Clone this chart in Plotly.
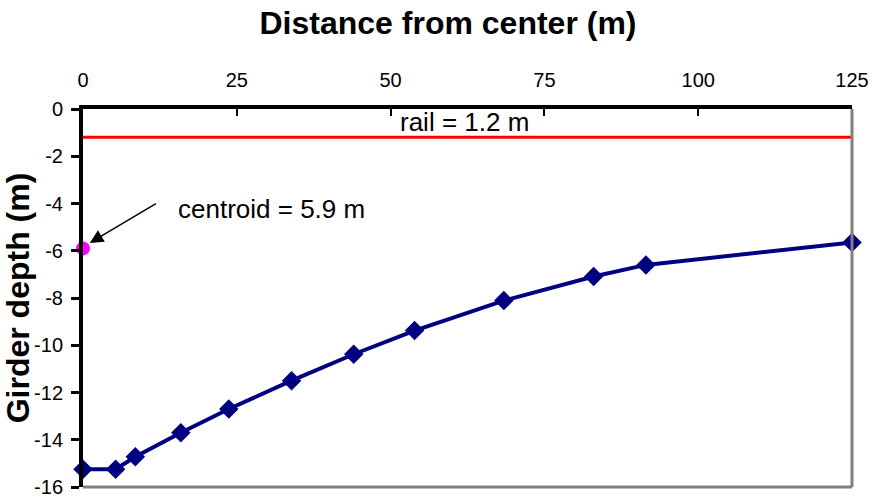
import plotly.graph_objects as go

distance = [0, 5.3, 8.5, 15.9, 23.7, 33.9, 44.0, 53.9, 68.4, 83.0, 91.5, 125]
depth = [-15.25, -15.25, -14.72, -13.7, -12.7, -11.5, -10.38, -9.38, -8.11, -7.09, -6.6, -5.65]
rail_x = [0, 125]
rail_y = [-1.2, -1.2]
centroid_x = [0]
centroid_y = [-5.9]
x_ticks = [0, 25, 50, 75, 100, 125]
x_labels = ["0", "25", "50", "75", "100", "125"]
y_ticks = [0, -2, -4, -6, -8, -10, -12, -14, -16]
y_labels = ["0", "-2", "-4", "-6", "-8", "-10", "-12", "-14", "-16"]

fig = go.Figure()
fig.add_trace(go.Scatter(x=rail_x, y=rail_y, mode="lines",
                         line=dict(color="#ff0000", width=3), showlegend=False))
fig.add_trace(go.Scatter(x=distance, y=depth, mode="lines+markers",
                         line=dict(color="#000080", width=4),
                         marker=dict(symbol="diamond", size=15, color="#000080"),
                         showlegend=False, cliponaxis=False))
fig.add_trace(go.Scatter(x=centroid_x, y=centroid_y, mode="markers",
                         marker=dict(symbol="circle", size=14, color="#ff00ff"),
                         showlegend=False, cliponaxis=False))

fig.add_shape(type="line", xref="paper", yref="paper", x0=1, x1=1, y0=0, y1=1,
              line=dict(color="#808080", width=3))
fig.add_shape(type="line", xref="paper", yref="paper", x0=0, x1=1, y0=0, y1=0,
              line=dict(color="#808080", width=3))

fig.add_annotation(x=1.1, y=-5.67, ax=12.1, ay=-3.97, axref="x", ayref="y",
                   xref="x", yref="y", text="", showarrow=True, arrowhead=2,
                   arrowsize=1.8, arrowwidth=1.5, arrowcolor="black")
fig.add_annotation(x=15.1, y=-4.22, xref="x", yref="y", text="centroid = 5.9 m",
                   showarrow=False, xanchor="left",
                   font=dict(size=26, color="black"))
fig.add_annotation(x=62.0, y=-0.55, xref="x", yref="y", text="rail = 1.2 m",
                   showarrow=False, font=dict(size=26, color="black"))

fig.update_layout(
    width=872, height=499,
    margin=dict(l=83, r=20, t=109, b=12),
    paper_bgcolor="white", plot_bgcolor="white",
    font=dict(family="Liberation Sans, Arial, sans-serif", color="black"),
    title=dict(text="<b>Distance from center (m)</b>", font=dict(size=32),
               xref="container", yref="container", x=448 / 872, xanchor="center",
               y=1 - 23 / 499, yanchor="middle"),
    xaxis=dict(side="top", range=[0, 125], tickvals=x_ticks, ticktext=x_labels,
               automargin=False,
               showgrid=False, zeroline=False, showline=True, linecolor="black",
               linewidth=4, ticks="inside", ticklen=7, tickwidth=2, tickcolor="black",
               tickfont=dict(size=20), ticklabelstandoff=10),
    yaxis=dict(range=[-16, 0], tickvals=y_ticks, ticktext=y_labels,
               automargin=False,
               showgrid=False, zeroline=False, showline=True, linecolor="black",
               linewidth=4, ticks="outside", ticklen=8, tickwidth=3, tickcolor="black",
               tickfont=dict(size=20), ticklabelstandoff=4,
               title=dict(text="<b>Girder depth (m)</b>", font=dict(size=32),
                          standoff=0)),
)

fig.write_html("out.html", config={"displayModeBar": False},
               post_script="document.body.style.margin='0px';document.body.style.overflow='hidden';")
